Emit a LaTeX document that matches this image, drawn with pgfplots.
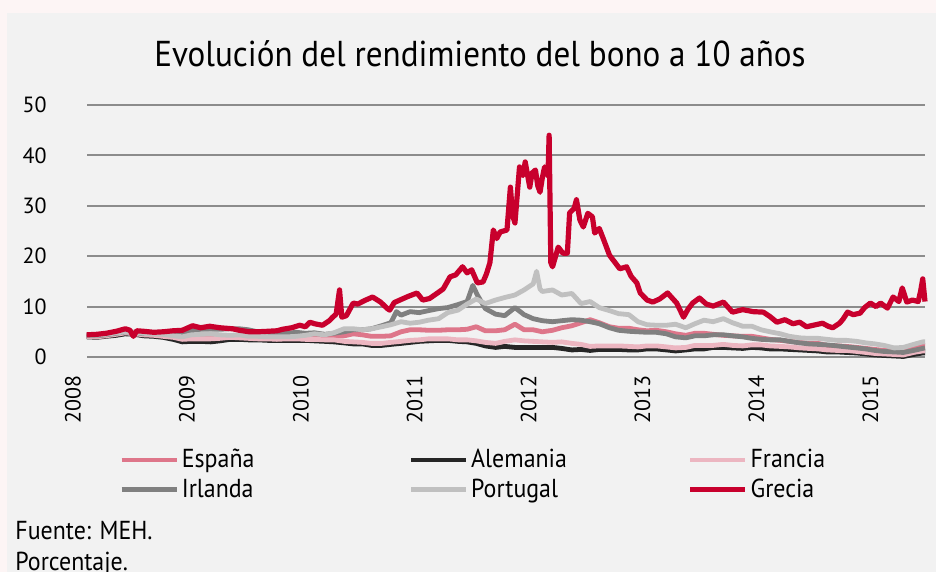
\documentclass[border=0pt]{standalone}
\usepackage{fontspec}
\setmainfont{PT Sans}
\newfontfamily\condfont[FakeStretch=0.92]{PT Sans}
\usepackage{pgfplots}
\pgfplotsset{compat=1.18}
\definecolor{cEsp}{HTML}{DE768A}
\definecolor{cAle}{HTML}{262626}
\definecolor{cFra}{HTML}{ECB6C1}
\definecolor{cIrl}{HTML}{808080}
\definecolor{cPor}{HTML}{C0C0C0}
\definecolor{cGre}{HTML}{C8002D}
\definecolor{gridc}{HTML}{8C8C8C}
\definecolor{panel}{HTML}{F2F2F2}
\definecolor{outer}{HTML}{FDF5F5}
\begin{document}
\begin{tikzpicture}
\useasboundingbox (0,0) rectangle (468pt,286pt);
\fill[outer] (0,0) rectangle (468pt,286pt);
\fill[panel] (3.5pt,0) rectangle (468pt,279.5pt);
\node[anchor=base, inner sep=0pt] at (240pt,252.5pt) {\condfont\fontsize{18}{20}\selectfont Evolución del rendimiento del bono a 10 años};
\begin{axis}[
  at={(36.5pt,107.5pt)}, anchor=south west,
  scale only axis, width=426pt, height=126pt,
  xmin=2008, xmax=2015.48, ymin=0, ymax=50,
  clip=false,
  axis line style={draw=none},
  major tick length=0pt,
  xtick={2008,2009,2010,2011,2012,2013,2014,2015},
  xticklabels={2008,2009,2010,2011,2012,2013,2014,2015},
  ytick={0,10,20,30,40,50},
  xticklabel style={rotate=90, anchor=east, inner sep=0pt, font=\fontsize{11}{13}\selectfont},
  xticklabel shift=9pt,
  yticklabel style={anchor=east, inner sep=0pt, font=\fontsize{11}{13}\selectfont},
  yticklabel shift=13pt,
  /pgf/number format/assume math mode=true,
  every axis plot/.append style={line join=round},
  legend columns=3,
  legend cell align=left,
  legend style={at={(0.0540,-0.357)}, anchor=north west, draw=none, fill=none,
    inner sep=0pt, row sep=2pt,
    font=\condfont\fontsize{13}{15}\selectfont,
    nodes={inner xsep=1.5pt, inner ysep=1pt}},
  legend image code/.code={\draw[#1, line width=2.2pt] (0pt,0pt) -- (27.5pt,0pt);},
]
\pgfplotsinvokeforeach{0,10,20,30,40,50}{
  \addplot[gridc, line width=1pt, forget plot] coordinates {(2008.123,#1) (2015.48,#1)};
}
% España
\addplot[cEsp, line width=2.4pt] coordinates {
(2008.12,4.2)(2008.21,4.2)(2008.29,4.3)(2008.38,4.6)(2008.46,4.9)(2008.54,4.8)(2008.62,4.6)(2008.71,4.5)(2008.79,4.4)(2008.88,4.1)(2008.96,3.8)
(2009.04,4.1)(2009.12,4.1)(2009.21,4.1)(2009.29,4.0)(2009.38,4.2)(2009.46,4.3)(2009.54,4.0)(2009.62,4.0)(2009.71,3.8)(2009.79,3.9)(2009.88,3.9)(2009.96,4.0)
(2010.04,4.0)(2010.12,4.0)(2010.21,3.9)(2010.29,4.1)(2010.38,4.2)(2010.46,4.6)(2010.54,4.4)(2010.62,4.1)(2010.71,4.1)(2010.79,4.2)(2010.88,5.0)(2010.96,5.4)
(2011.04,5.4)(2011.12,5.3)(2011.21,5.3)(2011.29,5.4)(2011.38,5.4)(2011.46,5.5)(2011.54,6.0)(2011.62,5.2)(2011.71,5.2)(2011.79,5.4)(2011.88,6.5)(2011.96,5.4)
(2012.04,5.4)(2012.12,5.0)(2012.21,5.3)(2012.29,5.8)(2012.38,6.2)(2012.46,6.8)(2012.54,7.4)(2012.62,6.8)(2012.71,6.0)(2012.79,5.7)(2012.88,5.7)(2012.96,5.4)
(2013.04,5.2)(2013.12,5.3)(2013.21,5.0)(2013.29,4.6)(2013.38,4.3)(2013.46,4.7)(2013.54,4.7)(2013.62,4.5)(2013.71,4.3)(2013.79,4.2)(2013.88,4.1)(2013.96,4.1)
(2014.04,3.8)(2014.12,3.5)(2014.21,3.3)(2014.29,3.1)(2014.38,2.9)(2014.46,2.7)(2014.54,2.7)(2014.62,2.3)(2014.71,2.2)(2014.79,2.1)(2014.88,1.9)(2014.96,1.7)
(2015.04,1.5)(2015.12,1.3)(2015.21,1.2)(2015.29,1.4)(2015.38,1.8)(2015.46,2.3)(2015.48,2.3)
};
\addlegendentry{\makebox[112pt][l]{España}}
% Alemania
\addplot[cAle, line width=2.4pt] coordinates {
(2008.12,4.0)(2008.21,3.9)(2008.29,4.1)(2008.38,4.3)(2008.46,4.6)(2008.54,4.5)(2008.62,4.2)(2008.71,4.1)(2008.79,3.9)(2008.88,3.5)(2008.96,3.0)
(2009.04,3.1)(2009.12,3.1)(2009.21,3.0)(2009.29,3.2)(2009.38,3.5)(2009.46,3.5)(2009.54,3.4)(2009.62,3.4)(2009.71,3.3)(2009.79,3.3)(2009.88,3.3)(2009.96,3.3)
(2010.04,3.3)(2010.12,3.2)(2010.21,3.1)(2010.29,3.0)(2010.38,2.8)(2010.46,2.6)(2010.54,2.6)(2010.62,2.3)(2010.71,2.3)(2010.79,2.5)(2010.88,2.7)(2010.96,2.9)
(2011.04,3.1)(2011.12,3.2)(2011.21,3.3)(2011.29,3.3)(2011.38,3.1)(2011.46,3.0)(2011.54,2.7)(2011.62,2.2)(2011.71,1.9)(2011.79,2.1)(2011.88,1.9)(2011.96,1.9)
(2012.04,1.9)(2012.12,1.9)(2012.21,1.9)(2012.29,1.7)(2012.38,1.4)(2012.46,1.5)(2012.54,1.3)(2012.62,1.5)(2012.71,1.5)(2012.79,1.5)(2012.88,1.4)(2012.96,1.4)
(2013.04,1.6)(2013.12,1.6)(2013.21,1.4)(2013.29,1.2)(2013.38,1.4)(2013.46,1.6)(2013.54,1.6)(2013.62,1.9)(2013.71,1.9)(2013.79,1.8)(2013.88,1.7)(2013.96,1.9)
(2014.04,1.8)(2014.12,1.6)(2014.21,1.6)(2014.29,1.5)(2014.38,1.4)(2014.46,1.3)(2014.54,1.2)(2014.62,1.0)(2014.71,1.0)(2014.79,0.9)(2014.88,0.8)(2014.96,0.6)
(2015.04,0.4)(2015.12,0.3)(2015.21,0.2)(2015.29,0.1)(2015.38,0.5)(2015.46,0.8)(2015.48,0.8)
};
\addlegendentry{\makebox[107pt][l]{Alemania}}
% Francia
\addplot[cFra, line width=2.4pt] coordinates {
(2008.12,4.1)(2008.21,4.0)(2008.29,4.2)(2008.38,4.5)(2008.46,4.8)(2008.54,4.6)(2008.62,4.4)(2008.71,4.3)(2008.79,4.1)(2008.88,3.9)(2008.96,3.5)
(2009.04,3.6)(2009.12,3.6)(2009.21,3.6)(2009.29,3.7)(2009.38,3.9)(2009.46,3.8)(2009.54,3.7)(2009.62,3.6)(2009.71,3.6)(2009.79,3.5)(2009.88,3.6)(2009.96,3.6)
(2010.04,3.5)(2010.12,3.5)(2010.21,3.4)(2010.29,3.4)(2010.38,3.1)(2010.46,3.0)(2010.54,2.9)(2010.62,2.7)(2010.71,2.7)(2010.79,2.9)(2010.88,3.1)(2010.96,3.3)
(2011.04,3.4)(2011.12,3.6)(2011.21,3.6)(2011.29,3.6)(2011.38,3.4)(2011.46,3.4)(2011.54,3.2)(2011.62,2.9)(2011.71,2.7)(2011.79,3.1)(2011.88,3.4)(2011.96,3.2)
(2012.04,3.1)(2012.12,3.0)(2012.21,2.9)(2012.29,3.0)(2012.38,2.7)(2012.46,2.5)(2012.54,2.1)(2012.62,2.2)(2012.71,2.2)(2012.79,2.2)(2012.88,2.1)(2012.96,2.0)
(2013.04,2.2)(2013.12,2.2)(2013.21,2.0)(2013.29,1.8)(2013.38,1.9)(2013.46,2.3)(2013.54,2.3)(2013.62,2.3)(2013.71,2.5)(2013.79,2.3)(2013.88,2.2)(2013.96,2.4)
(2014.04,2.4)(2014.12,2.2)(2014.21,2.1)(2014.29,2.0)(2014.38,1.8)(2014.46,1.7)(2014.54,1.6)(2014.62,1.4)(2014.71,1.3)(2014.79,1.3)(2014.88,1.1)(2014.96,0.9)
(2015.04,0.7)(2015.12,0.6)(2015.21,0.5)(2015.29,0.4)(2015.38,0.9)(2015.46,1.2)(2015.48,1.2)
};
\addlegendentry{\makebox[60pt][l]{Francia}}
% Irlanda
\addplot[cIrl, line width=2.4pt] coordinates {
(2008.12,4.2)(2008.21,4.2)(2008.29,4.4)(2008.38,4.7)(2008.46,5.0)(2008.54,4.9)(2008.62,4.6)(2008.71,4.6)(2008.79,4.6)(2008.88,4.4)(2008.96,4.5)
(2009.04,5.2)(2009.12,5.5)(2009.21,5.5)(2009.29,5.5)(2009.38,5.6)(2009.46,5.6)(2009.54,5.4)(2009.62,5.0)(2009.71,4.9)(2009.79,4.7)(2009.88,4.7)(2009.96,4.9)
(2010.04,4.7)(2010.12,4.8)(2010.21,4.5)(2010.29,4.7)(2010.38,5.0)(2010.46,5.4)(2010.54,5.4)(2010.62,5.6)(2010.71,6.2)(2010.79,6.8)(2010.84,9.0)(2010.88,8.3)(2010.96,9.0)
(2011.04,8.8)(2011.12,9.2)(2011.21,9.6)(2011.29,9.8)(2011.38,10.4)(2011.46,11.0)(2011.51,14.2)(2011.55,12.3)(2011.62,9.6)(2011.71,8.5)(2011.79,8.2)(2011.88,9.8)(2011.96,8.4)
(2012.04,7.6)(2012.12,7.2)(2012.21,7.0)(2012.29,7.2)(2012.38,7.4)(2012.46,7.3)(2012.54,7.0)(2012.62,6.6)(2012.71,5.8)(2012.79,5.3)(2012.88,5.1)(2012.96,5.0)
(2013.04,4.9)(2013.12,4.9)(2013.21,4.6)(2013.29,4.0)(2013.38,3.8)(2013.46,4.2)(2013.54,4.2)(2013.62,4.4)(2013.71,4.4)(2013.79,4.2)(2013.88,4.0)(2013.96,3.7)
(2014.04,3.5)(2014.12,3.4)(2014.21,3.4)(2014.29,3.1)(2014.38,2.8)(2014.46,2.6)(2014.54,2.5)(2014.62,2.4)(2014.71,2.2)(2014.79,2.0)(2014.88,1.8)(2014.96,1.6)
(2015.04,1.3)(2015.12,1.1)(2015.21,1.0)(2015.29,0.9)(2015.38,1.3)(2015.46,1.7)(2015.48,1.8)
};
\addlegendentry{\makebox[112pt][l]{Irlanda}}
% Portugal
\addplot[cPor, line width=2.4pt] coordinates {
(2008.12,4.3)(2008.21,4.3)(2008.29,4.5)(2008.38,4.8)(2008.46,5.0)(2008.54,4.9)(2008.62,4.7)(2008.71,4.6)(2008.79,4.5)(2008.88,4.2)(2008.96,4.0)
(2009.04,4.4)(2009.12,4.5)(2009.21,4.6)(2009.29,4.4)(2009.38,4.3)(2009.46,4.4)(2009.54,4.1)(2009.62,4.1)(2009.71,4.0)(2009.79,4.0)(2009.88,4.0)(2009.96,4.1)
(2010.04,4.3)(2010.12,4.6)(2010.21,4.4)(2010.29,4.8)(2010.38,5.6)(2010.46,5.6)(2010.54,5.4)(2010.62,5.6)(2010.71,6.0)(2010.79,6.4)(2010.88,7.0)(2010.96,6.7)
(2011.04,6.9)(2011.12,7.3)(2011.21,7.6)(2011.29,8.8)(2011.38,9.3)(2011.46,10.5)(2011.54,11.5)(2011.62,10.6)(2011.71,11.3)(2011.79,11.8)(2011.88,12.3)(2011.96,13.3)
(2012.04,14.5)(2012.07,17.0)(2012.10,13.5)(2012.12,13.0)(2012.21,13.3)(2012.29,12.3)(2012.38,12.6)(2012.46,10.6)(2012.54,11.0)(2012.62,9.8)(2012.71,9.2)(2012.79,8.6)(2012.88,8.4)(2012.96,7.0)
(2013.04,6.4)(2013.12,6.3)(2013.21,6.3)(2013.29,6.5)(2013.38,5.8)(2013.46,6.6)(2013.54,7.3)(2013.62,7.0)(2013.71,7.6)(2013.79,6.8)(2013.88,6.1)(2013.96,6.1)
(2014.04,5.4)(2014.12,5.0)(2014.21,4.6)(2014.29,4.1)(2014.38,3.8)(2014.46,3.7)(2014.54,3.7)(2014.62,3.5)(2014.71,3.3)(2014.79,3.3)(2014.88,3.1)(2014.96,2.8)
(2015.04,2.6)(2015.12,2.3)(2015.21,1.8)(2015.29,1.9)(2015.38,2.5)(2015.46,3.0)(2015.48,3.0)
};
\addlegendentry{\makebox[107pt][l]{Portugal}}
% Grecia
\addplot[cGre, line width=2.6pt] coordinates {
(2008.12,4.4)(2008.21,4.5)(2008.29,4.7)(2008.38,5.1)(2008.46,5.6)(2008.50,5.3)(2008.53,4.1)(2008.56,5.2)(2008.62,5.1)(2008.71,4.9)(2008.79,5.0)(2008.88,5.2)(2008.96,5.3)
(2009.05,6.2)(2009.12,5.8)(2009.20,6.1)(2009.29,5.8)(2009.40,5.6)(2009.46,5.3)(2009.55,5.0)(2009.62,5.0)(2009.71,5.1)(2009.79,5.2)(2009.84,5.5)(2009.92,5.8)(2009.99,6.3)
(2010.04,6.0)(2010.08,6.9)(2010.12,6.6)(2010.19,6.3)(2010.25,7.2)(2010.28,7.9)(2010.31,8.5)(2010.34,13.3)(2010.36,7.9)(2010.40,8.2)(2010.46,10.7)(2010.50,10.5)(2010.56,11.2)(2010.63,11.9)(2010.70,10.9)(2010.76,9.6)(2010.78,9.3)(2010.82,10.8)(2010.87,11.3)(2010.94,12.0)
(2011.02,12.7)(2011.07,11.3)(2011.13,11.6)(2011.20,12.7)(2011.25,13.5)(2011.31,15.9)(2011.36,16.3)(2011.42,17.9)(2011.46,16.7)(2011.50,17.3)(2011.55,14.7)(2011.60,14.9)(2011.63,16.5)(2011.66,18.7)(2011.69,25.2)(2011.72,23.5)(2011.75,24.8)(2011.81,25.2)(2011.84,33.7)(2011.86,28.0)(2011.88,26.6)(2011.92,37.7)(2011.95,36.0)(2011.97,38.7)
(2012.01,33.7)(2012.03,36.5)(2012.06,37.1)(2012.08,34.0)(2012.10,32.7)(2012.12,35.5)(2012.14,37.7)(2012.17,36.0)(2012.18,44.0)(2012.195,18.7)(2012.21,17.9)(2012.26,21.8)(2012.30,20.6)(2012.34,20.6)(2012.36,28.6)(2012.40,29.5)(2012.42,31.2)(2012.45,27.2)(2012.48,25.8)(2012.52,28.5)(2012.56,27.8)(2012.58,24.6)(2012.62,25.5)(2012.65,23.8)(2012.71,20.2)(2012.75,19.0)(2012.80,17.5)(2012.86,17.9)(2012.90,16.0)(2012.95,14.7)(2012.98,12.7)
(2013.04,11.3)(2013.09,10.9)(2013.15,11.5)(2013.22,12.7)(2013.30,10.7)(2013.36,7.9)(2013.40,9.5)(2013.44,10.7)(2013.50,11.7)(2013.56,10.5)(2013.62,10.1)(2013.71,10.9)(2013.79,8.9)(2013.88,9.4)(2013.97,9.0)
(2014.06,8.9)(2014.12,8.0)(2014.18,6.9)(2014.25,7.4)(2014.32,6.6)(2014.38,6.9)(2014.44,6.0)(2014.52,6.4)(2014.58,6.7)(2014.63,6.1)(2014.67,5.8)(2014.73,6.7)(2014.76,7.5)(2014.80,8.9)(2014.85,8.4)(2014.91,8.7)(2014.95,9.8)
(2015.00,10.7)(2015.05,10.0)(2015.09,10.7)(2015.15,9.7)(2015.20,11.9)(2015.25,11.0)(2015.28,13.7)(2015.32,10.9)(2015.37,11.3)(2015.42,11.0)(2015.44,12.9)(2015.46,15.5)(2015.48,11.0)
};
\addlegendentry{\makebox[60pt][l]{Grecia}}
\end{axis}
\node[anchor=base west, inner sep=0pt] at (7.5pt,16pt) {\condfont\fontsize{13}{15}\selectfont Fuente: MEH.};
\node[anchor=base west, inner sep=0pt] at (7.5pt,0.5pt) {\condfont\fontsize{13}{15}\selectfont Porcentaje.};
\end{tikzpicture}
\end{document}
